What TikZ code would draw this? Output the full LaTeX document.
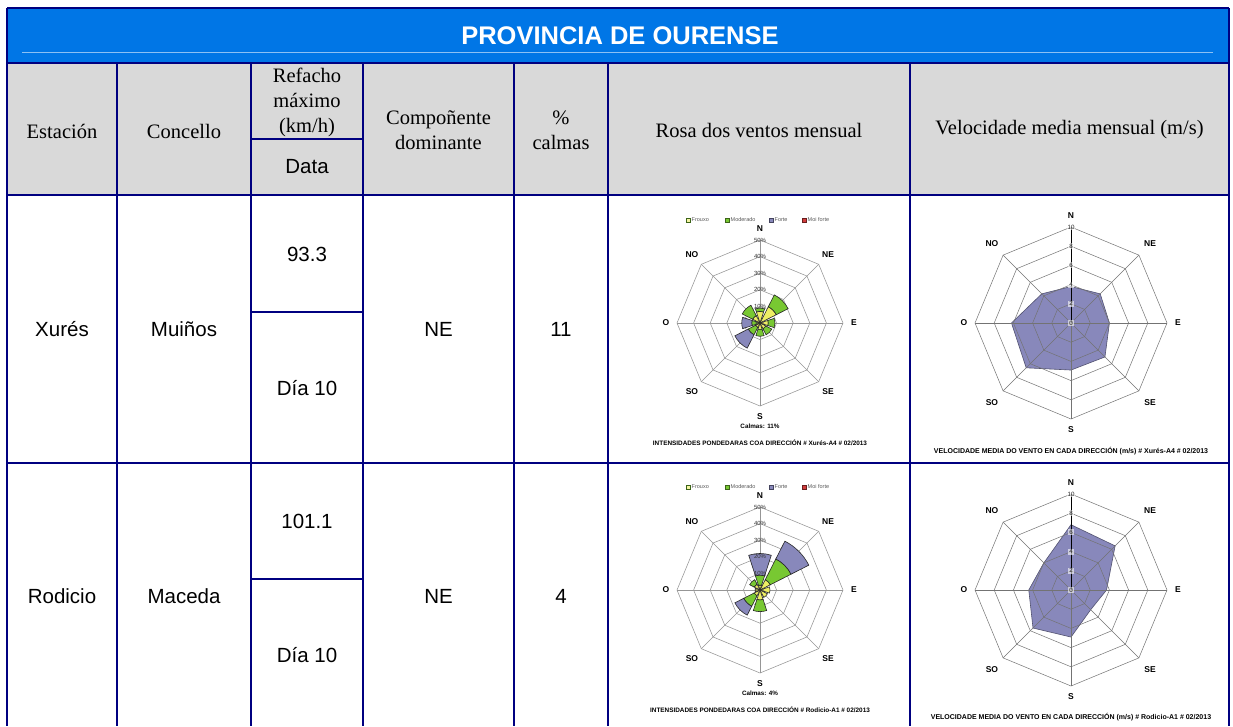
\documentclass[tikz,border=0pt]{standalone}
\usepackage{fontspec}
\setmainfont{Liberation Serif}
\setsansfont{Liberation Sans}
\definecolor{navy}{RGB}{0,0,128}
\definecolor{hdrblue}{RGB}{0,118,230}
\definecolor{hdrgray}{RGB}{217,217,217}
\definecolor{frouxo}{RGB}{238,238,100}
\definecolor{moderado}{RGB}{120,200,50}
\definecolor{forte}{RGB}{136,136,187}
\definecolor{moiforte}{RGB}{210,60,60}
\definecolor{velfill}{RGB}{136,136,187}
\definecolor{gridgray}{RGB}{150,150,150}
\newcommand\octagon[1]{(0:#1) -- (45:#1) -- (90:#1) -- (135:#1) -- (180:#1) -- (225:#1) -- (270:#1) -- (315:#1) -- cycle}
\newcommand\petal[4]{%
 \pgfmathsetmacro\petA{90-#1-18}\pgfmathsetmacro\petB{90-#1+18}%
 \filldraw[petaledge, fill=#4] (\petA:#2) -- (\petA:#3) arc[start angle=\petA, end angle=\petB, radius=#3] -- (\petB:#2) arc[start angle=\petB, end angle=\petA, radius=#2] -- cycle;}
\newcommand\compasslabels[3]{%
 \node[dirlabel] (#1N) at (90:#2) {N};
 \node[dirlabel] (#1NE) at (45:#3) {NE};
 \node[dirlabel] (#1E) at (0:#2) {E};
 \node[dirlabel] (#1SE) at (-45:#3) {SE};
 \node[dirlabel] (#1S) at (-90:#2) {S};
 \node[dirlabel] (#1SO) at (-135:#3) {SO};
 \node[dirlabel] (#1O) at (180:#2) {O};
 \node[dirlabel] (#1NO) at (135:#3) {NO};}
\newcommand\rosegrid{%
 \foreach \r in {10,20,30,40,50} \draw[rgrid] \octagon{\r};
 \foreach \a in {0,45,...,315} \draw[rgrid] (0,0) -- (\a:50);}
\newcommand\roselabels[1]{%
 \foreach \p in {0,10,20,30,40,50} \node[pct] (#1p\p) at (0,\p) {\p\%};
 \compasslabels{#1}{56.6}{58}}
\newcommand\roseextras[3]{%
 \node[legbox, fill=frouxo!60!white, draw=moderado!50!black] (#1lb1) at (688,220) {};
 \node[legtext] (#1lt1) at (691.5,220) {Frouxo};
 \node[legbox, fill=moderado, draw=moderado!50!black] (#1lb2) at (727,220) {};
 \node[legtext] (#1lt2) at (730.5,220) {Moderado};
 \node[legbox, fill=forte, draw=forte!50!black] (#1lb3) at (771,220) {};
 \node[legtext] (#1lt3) at (774.5,220) {Forte};
 \node[legbox, fill=moiforte, draw=moiforte!50!black] (#1lb4) at (804,220) {};
 \node[legtext] (#1lt4) at (807.5,220) {Moi forte};
 \node[calm] (#1calm) at (760,426) {Calmas: #2\%};
 \node[caption] (#1cap) at (760,443) {INTENSIDADES PONDEDARAS COA DIRECCIÓN \# #3 \# 02/2013};}
\newcommand\velgrid[1]{%
 \foreach \r in {2,4,6,8,10} \draw[vgrid] \octagon{\r};
 \foreach \a in {0,45,...,315} \draw[vgrid] (0,0) -- (\a:10);
 \draw[vaxis] (0,0) -- (90:10);
 \foreach \v in {0,2,4,6,8,10} \node[vtick] (#1t\v) at (0,\v) {\v};
 \compasslabels{#1}{11.15}{11.65}}
\begin{document}
\begin{tikzpicture}[x=1pt,y=-1pt,
 tline/.style={draw=navy, line width=2pt},
 titleline/.style={draw=white!55!hdrblue, line width=0.7pt},
 hdr/.style={font=\fontsize{20.5}{25}\selectfont, text=black, inner sep=0pt, align=center},
 val/.style={font=\sffamily\fontsize{20.5}{25}\selectfont, text=black, inner sep=0pt},
 titletext/.style={font=\sffamily\bfseries\fontsize{25.5}{30}\selectfont, text=white, inner sep=0pt},
 rgrid/.style={draw=gridgray, line width=0.55pt},
 vgrid/.style={draw=black!55, line width=0.5pt},
 vaxis/.style={draw=black, line width=0.8pt},
 petaledge/.style={draw=black!85, line width=0.6pt},
 velpoly/.style={fill=velfill, draw=velfill!60!black, line width=0.6pt},
 dirlabel/.style={font=\sffamily\bfseries\fontsize{8.5}{10}\selectfont, inner sep=0pt},
 pct/.style={font=\sffamily\fontsize{6}{7}\selectfont, text=black!80, inner sep=0.3pt},
 vtick/.style={font=\sffamily\fontsize{6.2}{7}\selectfont, fill=white, fill opacity=0.6, text opacity=1, text=black!85, inner sep=0.8pt},
 legtext/.style={font=\sffamily\fontsize{5.5}{6}\selectfont, text=black!65, inner sep=0pt, anchor=west},
 legbox/.style={line width=0.4pt, minimum size=4pt, inner sep=0pt},
 calm/.style={font=\sffamily\bfseries\fontsize{6.3}{7}\selectfont, inner sep=0pt},
 caption/.style={font=\sffamily\bfseries\fontsize{6.4}{7}\selectfont, inner sep=0pt},
 vcaption/.style={font=\sffamily\bfseries\fontsize{7}{8}\selectfont, inner sep=0pt}]
\useasboundingbox (0,0) rectangle (1233,726);
\fill[white] (0,0) rectangle (1233,726);
% title band
\fill[hdrblue] (7,8) rectangle (1229,63);
\draw[titleline] (22,52) -- (1213,52);
\node[titletext] (title) at (620,35.5) {PROVINCIA DE OURENSE};
% header row
\fill[hdrgray] (7,63) rectangle (1229,195);
\node[hdr] (hEst) at (62,131) {Estación};
\node[hdr] (hCon) at (184,131) {Concello};
\node[hdr] (hRef) at (307,102) {Refacho\\máximo\\(km/h)};
\node[val] (hData) at (307,167) {Data};
\node[hdr] (hComp) at (438.5,130) {Compoñente\\dominante};
\node[hdr] (hCal) at (561,130) {\%\\calmas};
\node[hdr] (hRosa) at (759,130) {Rosa dos ventos mensual};
\node[hdr] (hVel) at (1069.5,130) {Velocidade media mensual (m/s)};
% row 1
\node[val] (r1Est) at (62,329) {Xurés};
\node[val] (r1Con) at (184,329) {Muiños};
\node[val] (r1Ref) at (307,254) {93.3};
\node[val] (r1Data) at (307,388) {Día 10};
\node[val] (r1Comp) at (438.5,329) {NE};
\node[val] (r1Cal) at (561,329) {11};
% row 2
\node[val] (r2Est) at (62,596) {Rodicio};
\node[val] (r2Con) at (184,596) {Maceda};
\node[val] (r2Ref) at (307,521) {101.1};
\node[val] (r2Data) at (307,655) {Día 10};
\node[val] (r2Comp) at (438.5,596) {NE};
\node[val] (r2Cal) at (561,596) {4};
% ---- rose 1 ----
\begin{scope}[shift={(760,323)}, x=1.66pt, y=1.66pt]
 \rosegrid
 \petal{0}{0}{7}{frouxo}\petal{0}{7}{9}{moderado}
 \petal{45}{0}{11}{frouxo}\petal{45}{11}{19}{moderado}
 \petal{90}{0}{5}{frouxo}\petal{90}{5}{9}{moderado}
 \petal{135}{0}{4}{frouxo}\petal{135}{4}{8}{moderado}
 \petal{180}{0}{4}{frouxo}\petal{180}{4}{8}{moderado}
 \petal{225}{0}{3}{frouxo}\petal{225}{3}{8}{moderado}\petal{225}{8}{17}{forte}
 \petal{270}{0}{2}{frouxo}\petal{270}{2}{5}{moderado}\petal{270}{5}{11}{forte}
 \petal{315}{0}{5}{frouxo}\petal{315}{5}{12}{moderado}
 \roselabels{ra}
\end{scope}
\roseextras{ra}{11}{Xurés-A4}
% ---- rose 2 ----
\begin{scope}[shift={(0,267)}]
\begin{scope}[shift={(760,323)}, x=1.66pt, y=1.66pt]
 \rosegrid
 \petal{0}{0}{3}{frouxo}\petal{0}{3}{9}{moderado}\petal{0}{9}{22}{forte}
 \petal{45}{0}{7}{frouxo}\petal{45}{7}{21}{moderado}\petal{45}{21}{33}{forte}
 \petal{90}{0}{6}{frouxo}
 \petal{135}{0}{5}{frouxo}
 \petal{180}{0}{6}{frouxo}\petal{180}{6}{13}{moderado}
 \petal{225}{0}{4}{frouxo}\petal{225}{4}{11}{moderado}\petal{225}{11}{17}{forte}
 \petal{270}{0}{3}{frouxo}
 \petal{315}{0}{4}{frouxo}\petal{315}{4}{7}{moderado}
 \roselabels{rb}
\end{scope}
\roseextras{rb}{4}{Rodicio-A1}
\end{scope}
% ---- velocity 1 ----
\begin{scope}[shift={(1071,323)}, x=9.6pt, y=9.6pt]
 \filldraw[velpoly] (90:3.8) -- (45:4.3) -- (0:4.0) -- (-45:5.0) -- (-90:4.9) -- (-135:6.6) -- (180:6.2) -- (135:4.3) -- cycle;
 \velgrid{va}
\end{scope}
\node[vcaption] (vacap) at (1071,451) {VELOCIDADE MEDIA DO VENTO EN CADA DIRECCIÓN (m/s) \# Xurés-A4 \# 02/2013};
% ---- velocity 2 ----
\begin{scope}[shift={(1071,590)}, x=9.6pt, y=9.6pt]
 \filldraw[velpoly] (90:6.8) -- (45:6.5) -- (0:3.7) -- (-45:2.9) -- (-90:4.9) -- (-135:5.6) -- (180:4.4) -- (135:4.0) -- cycle;
 \velgrid{vb}
\end{scope}
\node[vcaption] (vbcap) at (1071,717) {VELOCIDADE MEDIA DO VENTO EN CADA DIRECCIÓN (m/s) \# Rodicio-A1 \# 02/2013};
% ---- table lines ----
\draw[tline] (7,8) -- (1229,8);
\draw[tline] (7,8) -- (7,726);
\draw[tline] (1229,8) -- (1229,726);
\draw[tline] (7,63) -- (1229,63);
\draw[tline] (7,195) -- (1229,195);
\draw[tline] (7,463) -- (1229,463);
\foreach \x in {117,251,363,514,608,910} \draw[tline] (\x,63) -- (\x,726);
\foreach \y in {139,312,579} \draw[tline] (251,\y) -- (363,\y);
\end{tikzpicture}
\end{document}
